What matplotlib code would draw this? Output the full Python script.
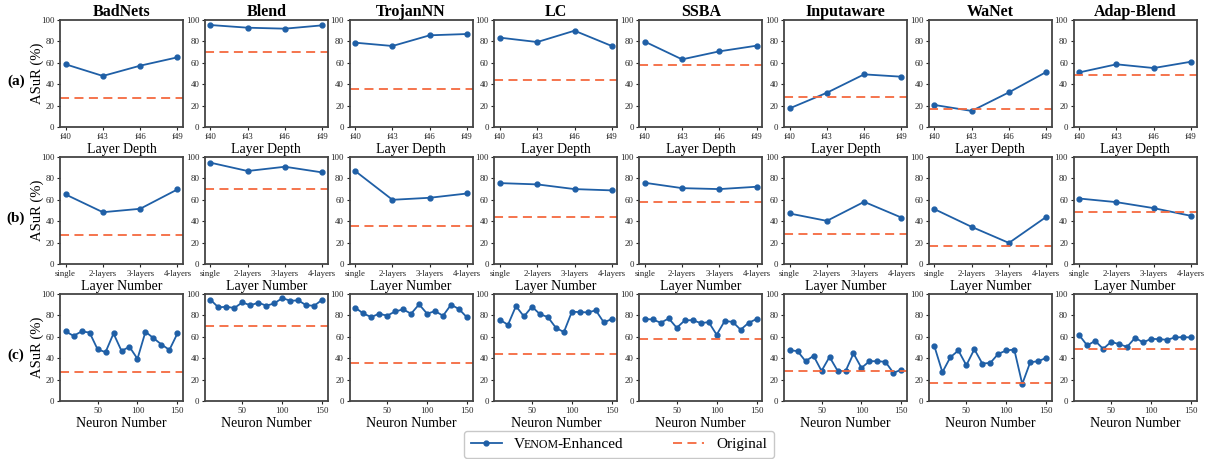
import matplotlib
matplotlib.use("Agg")
import matplotlib.pyplot as plt
from matplotlib.lines import Line2D
from matplotlib.offsetbox import TextArea, HPacker

plt.rcParams['font.family'] = ['Liberation Serif', 'DejaVu Serif']
plt.rcParams['mathtext.fontset'] = 'stix'

attacks = ['BadNets', 'Blend', 'TrojanNN', 'LC', 'SSBA', 'Inputaware', 'WaNet', 'Adap-Blend']
original = [27.4, 70.2, 35.9, 43.6, 58.3, 28.3, 16.5, 49.0]

depth_ticks = ['f40', 'f43', 'f46', 'f49']
depth_vals = [
    [58.6, 47.7, 57.3, 65.1],
    [95.3, 92.8, 91.9, 95.0],
    [78.8, 75.7, 85.7, 86.9],
    [83.5, 79.4, 90.0, 75.7],
    [79.8, 63.2, 70.7, 76.0],
    [17.4, 32.0, 49.2, 47.0],
    [20.6, 15.0, 32.4, 51.4],
    [51.0, 58.6, 55.1, 61.0],
]

layer_ticks = ['single', '2-layers', '3-layers', '4-layers']
layer_vals = [
    [65.0, 48.4, 51.6, 69.7],
    [94.7, 86.9, 90.9, 85.6],
    [86.9, 60.0, 61.9, 65.9],
    [75.6, 74.4, 70.0, 68.8],
    [75.9, 70.9, 70.0, 72.2],
    [47.2, 40.3, 58.1, 43.4],
    [51.3, 34.7, 19.7, 44.0],
    [61.2, 57.8, 52.2, 45.0],
]

neurons = [10, 20, 30, 40, 50, 60, 70, 80, 90, 100, 110, 120, 130, 140, 150]
neuron_vals = [
    [65.0, 60.9, 65.0, 64.0, 48.4, 45.6, 63.1, 46.9, 50.6, 39.4, 64.7, 58.8, 52.8, 47.8, 63.1],
    [94.7, 87.5, 88.1, 86.9, 92.2, 89.4, 91.9, 89.1, 91.2, 96.2, 93.7, 94.0, 89.5, 89.0, 94.7],
    [87.2, 81.9, 78.4, 81.6, 79.7, 83.7, 85.6, 81.6, 90.3, 81.6, 84.0, 79.7, 90.0, 85.9, 78.1],
    [75.9, 71.2, 88.7, 79.0, 88.1, 81.2, 78.4, 68.4, 64.4, 83.4, 83.1, 82.8, 84.7, 73.4, 76.6],
    [76.6, 76.2, 73.1, 77.2, 68.4, 75.3, 75.6, 72.8, 73.7, 61.9, 74.7, 74.0, 66.6, 73.1, 76.6],
    [47.5, 46.6, 37.2, 42.2, 28.1, 41.2, 28.4, 27.8, 44.4, 30.9, 37.2, 37.2, 36.6, 26.2, 29.4],
    [51.2, 26.9, 40.9, 47.2, 33.4, 48.4, 35.0, 35.6, 44.1, 47.2, 48.1, 15.9, 36.2, 37.2, 40.3],
    [61.6, 51.9, 56.2, 48.7, 55.3, 53.1, 50.6, 59.1, 54.7, 58.1, 57.8, 57.2, 59.4, 59.7, 59.4],
]

row_names = ['(a)', '(b)', '(c)']
row_xlabels = ['Layer Depth', 'Layer Number', 'Neuron Number']

blue = '#1f5fa6'
orange = '#f4693f'
spine_col = '#444444'

W, H = 1206, 459
fig = plt.figure(figsize=(W / 100, H / 100), dpi=100)

col_left = [60 + 144.8 * i for i in range(8)]
ax_w = 123
row_top = [20, 157, 294]
ax_h = 107

for r in range(3):
    for c in range(8):
        ax = fig.add_axes([col_left[c] / W, 1 - (row_top[r] + ax_h) / H, ax_w / W, ax_h / H])
        if r == 0:
            xs = list(range(len(depth_ticks)))
            ys = depth_vals[c]
        elif r == 1:
            xs = list(range(len(layer_ticks)))
            ys = layer_vals[c]
        else:
            xs = neurons
            ys = neuron_vals[c]
        ax.plot(xs, ys, color=blue, marker='o', markersize=3.5, linewidth=1.3)
        ax.axhline(original[c], color=orange, linestyle='--', linewidth=1.3, dashes=(5, 3))
        ax.set_ylim(0, 100)
        ax.set_yticks([0, 20, 40, 60, 80, 100])
        if r == 0:
            ax.set_xticks(xs)
            ax.set_xticklabels(depth_ticks)
        elif r == 1:
            ax.set_xticks(xs)
            ax.set_xticklabels(layer_ticks)
        else:
            ax.set_xticks([50, 100, 150])
        ax.tick_params(labelsize=6.3, length=2.5, width=0.8, pad=1.5, colors='#222222')
        for s in ax.spines.values():
            s.set_color(spine_col)
            s.set_linewidth(1.3)
        ax.set_xlabel(row_xlabels[r], fontsize=10, labelpad=2)
        if r == 0:
            ax.set_title(attacks[c], fontsize=11.5, fontweight='bold', pad=3)
        if c == 0:
            ax.set_ylabel('ASuR (%)', fontsize=10.5)
            ax.yaxis.set_label_coords(-16 / ax_w, 0.5)

for r in range(3):
    fig.text(16 / W, 1 - (row_top[r] + 61) / H, row_names[r], fontsize=11,
             fontweight='bold', ha='center', va='center')

handles = [
    Line2D([], [], color=blue, marker='o', markersize=3.5, linewidth=1.3),
    Line2D([], [], color=orange, linestyle='--', linewidth=1.3, dashes=(5, 3)),
]
leg_fs = 11
leg = fig.legend(handles, ['Venom-Enhanced', 'Original'], ncol=2, fontsize=leg_fs,
                 loc='center', bbox_to_anchor=(619 / W, 1 - 444.5 / H),
                 handlelength=2.0, columnspacing=3.3, frameon=True,
                 edgecolor='#bbbbbb', fancybox=True, borderpad=0.45)

# small caps for VENOM
entry = leg._legend_handle_box.get_children()[0].get_children()[0]
sc = HPacker(children=[
    TextArea('V', textprops=dict(size=leg_fs, fontfamily='Liberation Serif')),
    TextArea('ENOM', textprops=dict(size=leg_fs * 0.78, fontfamily='Liberation Serif')),
    TextArea('-Enhanced', textprops=dict(size=leg_fs, fontfamily='Liberation Serif')),
], align='baseline', pad=0, sep=-1)
sc.set_figure(fig)
entry.get_children()[1] = sc

fig.savefig('out.png', dpi=100)
